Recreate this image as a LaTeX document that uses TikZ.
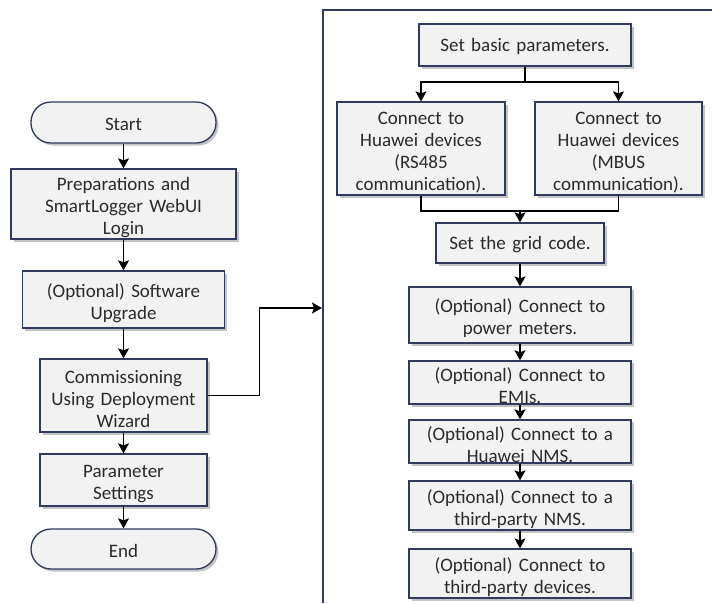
\documentclass[tikz,border=0pt]{standalone}
\usepackage{fontspec}
\setmainfont{Carlito}
\usetikzlibrary{arrows.meta,shadows}
\definecolor{bordc}{HTML}{2F3A5E}
\definecolor{fillc}{HTML}{F2F2F2}
\definecolor{txtc}{HTML}{2A2A2A}
\definecolor{shc}{HTML}{C4C4C4}
\tikzset{
  box/.style={draw=bordc, line width=1.3pt, fill=fillc, text=txtc, align=center, inner sep=0pt,
    font=\fontsize{19pt}{22pt}\selectfont,
    execute at begin node={\rule{0pt}{16.5pt}},
    drop shadow={shadow xshift=2.5pt, shadow yshift=-2.5pt, fill=shc, opacity=1}},
  ml/.style={execute at begin node={\rule{0pt}{21pt}}},
  term/.style={box, rounded corners=20pt},
  conn/.style={draw=black, line width=1.1pt},
  arr/.style={conn, -{Stealth[length=10pt,width=11pt,inset=2pt]}},
  frame/.style={draw=bordc, line width=2pt}
}
\begin{document}
\begin{tikzpicture}[x=1pt,y=-1pt]
\useasboundingbox (0,0) rectangle (712,603);
% left column
\node[term, minimum width=185pt, minimum height=41pt, text width=180pt] (start) at (123.5,122.5) {Start};
\node[box, ml, minimum width=225pt, minimum height=70pt, text width=220pt] (b1) at (123.5,204) {Preparations and\\SmartLogger WebUI\\Login};
\node[box, ml, minimum width=202pt, minimum height=57pt, text width=197pt] (b2) at (123.5,299.5) {(Optional) Software\\Upgrade};
\node[box, ml, minimum width=167pt, minimum height=73pt, text width=162pt] (b3) at (123.5,395.5) {Commissioning\\Using Deployment\\Wizard};
\node[box, ml, minimum width=167pt, minimum height=52pt, text width=162pt] (b4) at (123.5,480) {Parameter\\Settings};
\node[term, minimum width=185pt, minimum height=40pt, text width=180pt] (end) at (123.5,549) {End};
\draw[arr] (start) -- (b1);
\draw[arr] (b1) -- (b2);
\draw[arr] (b2) -- (b3);
\draw[arr] (b3) -- (b4);
\draw[arr] (b4) -- (end);
% frame
\coordinate (fbl) at (323,603);
\coordinate (ftl) at (323,10);
\coordinate (ftr) at (712,10);
\draw[frame] (fbl) -- (ftl) -- (ftr);
\coordinate (fin) at (322,308);
\draw[arr] (b3.east) -- ++(52,0) |- (fin);
% right column
\node[box, minimum width=212pt, minimum height=42pt, text width=207pt] (sb) at (525,45) {Set basic parameters.};
\node[box, ml, minimum width=168pt, minimum height=93pt, text width=163pt] (rs) at (421,148.5) {Connect to\\Huawei devices\\(RS485\\communication).};
\node[box, ml, minimum width=167pt, minimum height=93pt, text width=162pt] (mb) at (618.5,148.5) {Connect to\\Huawei devices\\(MBUS\\communication).};
\coordinate (split) at (525,82);
\draw[conn] (sb.south) -- (split);
\draw[arr] (split) -| (rs.north);
\draw[arr] (split) -| (mb.north);
\node[box, minimum width=168pt, minimum height=40pt, text width=163pt] (grid) at (520,243) {Set the grid code.};
\coordinate (merge) at (520,211);
\draw[conn] (rs.south) |- (merge);
\draw[conn] (mb.south) |- (merge);
\draw[arr] (merge) -- (grid.north);
\node[box, ml, minimum width=222pt, minimum height=56pt, text width=217pt] (pm) at (520,315) {(Optional) Connect to\\power meters.};
\node[box, ml, minimum width=222pt, minimum height=41pt, text width=217pt] (emi) at (520,382.5) {(Optional) Connect to\\EMIs.};
\node[box, ml, minimum width=222pt, minimum height=41pt, text width=217pt] (hn) at (520,441.5) {(Optional) Connect to a\\Huawei NMS.};
\node[box, ml, minimum width=222pt, minimum height=49pt, text width=217pt] (tn) at (520,505.5) {(Optional) Connect to a\\third-party NMS.};
\node[box, ml, minimum width=222pt, minimum height=49pt, text width=217pt] (td) at (520,573.5) {(Optional) Connect to\\third-party devices.};
\draw[arr] (grid) -- (pm);
\draw[arr] (pm) -- (emi);
\draw[arr] (emi) -- (hn);
\draw[arr] (hn) -- (tn);
\draw[arr] (tn) -- (td);
\end{tikzpicture}
\end{document}
